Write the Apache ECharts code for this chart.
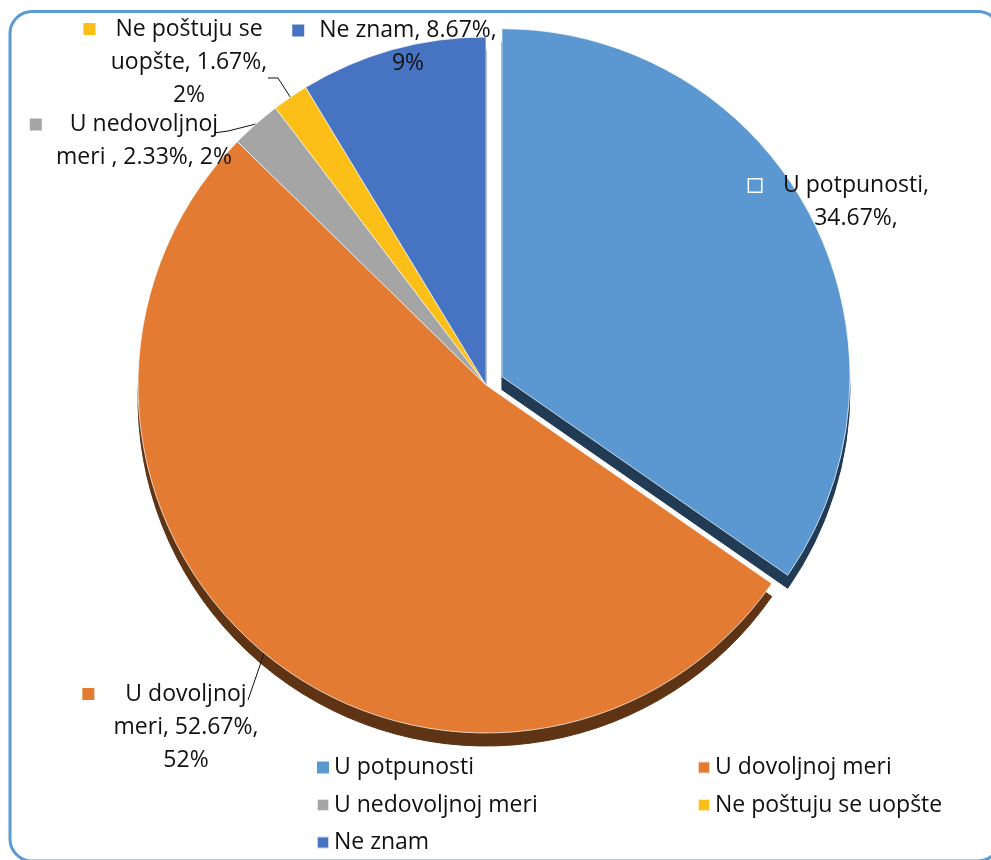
<!DOCTYPE html>
<html>
<head>
<meta charset="utf-8">
<style>
  html, body { margin: 0; padding: 0; background: #ffffff; }
  #chart { width: 991px; height: 860px; }
</style>
<script src="https://cdn.jsdelivr.net/npm/echarts@6/dist/echarts.min.js"></script>
</head>
<body>
<div id="chart"></div>
<script>
// Survey answers and their shares (%)
const categories = ['U potpunosti', 'U dovoljnoj meri', 'U nedovoljnoj meri', 'Ne poštuju se uopšte', 'Ne znam'];
const shares = [34.67, 52.67, 2.33, 1.67, 8.67];
const roundedShares = [null, 52, 2, 2, 9];

// How each data label is wrapped ($v = share, $r = rounded share)
const labelRows = [
  ['U potpunosti,', '$v,'],
  ['U dovoljnoj', 'meri, $v,', '$r'],
  ['U nedovoljnoj', 'meri , $v, $r'],
  ['Ne poštuju se', 'uopšte, $v,', '$r'],
  ['Ne znam, $v,', '$r']
];

const faceColors = ['#5B97D0', '#E47B33', '#A5A5A5', '#FBBF17', '#4673C2'];
const wallColors = ['#223B55', '#5E3414', '#404040', '#7F6000', '#1F3763'];

const FONT = '"Open Sans", "Liberation Sans", Arial, sans-serif';
const FS = 23;
const CENTER = [486, 385];
const RADIUS = 348;
const DEPTH = 13;
const EXPLODE = 18;
const EXPLODED = 0; // index of the slice pulled out of the pie

// spacing between the key square and the first line of each label
const keyGaps = [22, 31, 28, 20, 15];
// label block centres
const labelPos = [[856, 202], [186, 727], [144, 141], [189, 62], [408, 47]];
// where the leader line bends / meets the label, relative to the label centre
const leaderBends = [
  null,
  [[62, -27]],
  [[84, -10], [70, -8]],
  [[89, 16], [79, 16]],
  null
];
const withLine = [false, true, true, true, false];

const rich = { t: { fontSize: FS, lineHeight: 33, color: '#111', fontFamily: FONT } };
faceColors.forEach((c, i) => {
  rich['s' + i] = {
    width: 12, height: 12, backgroundColor: c,
    borderColor: i === 0 ? '#ffffff' : c, borderWidth: i === 0 ? 1.5 : 0
  };
  rich['g' + i] = { width: keyGaps[i], lineHeight: 33 };
  rich['p' + i] = { width: keyGaps[i] + 12, lineHeight: 33 };
});

function labelText(i) {
  const v = shares[i].toFixed(2) + '%';
  const r = roundedShares[i] == null ? '' : roundedShares[i] + '%';
  const rows = labelRows[i].map(s => s.replace('$v', v).replace('$r', r));
  return rows.map((row, k) => k === 0
    ? `{s${i}|}{g${i}|}{t|${row}}{p${i}|}`
    : `{t|${row}}`).join('\n');
}

function layoutLabel(p) {
  const i = p.dataIndex;
  const [lx, ly] = labelPos[i];
  const out = { x: lx, y: ly, align: 'center', verticalAlign: 'middle' };
  if (leaderBends[i] && p.labelLinePoints) {
    const start = p.labelLinePoints[0];
    out.labelLinePoints = [start].concat(leaderBends[i].map(([dx, dy]) => [lx + dx, ly + dy]));
  }
  return out;
}

// direction in which the exploded slice is pulled out (its bisector)
const total = shares.reduce((a, b) => a + b, 0);
const before = shares.slice(0, EXPLODED).reduce((a, b) => a + b, 0);
const midAngle = (before + shares[EXPLODED] / 2) / total * 2 * Math.PI;
const shift = [EXPLODE * Math.sin(midAngle), -EXPLODE * Math.cos(midAngle)];

const HIDDEN = 'rgba(0,0,0,0)';

// one pie layer; `visible(i)` chooses which slices are painted in it
function pieLayer(opts) {
  return {
    type: 'pie', z: opts.z,
    center: opts.center, radius: RADIUS,
    startAngle: 90, clockwise: true,
    selectedMode: false, silent: true,
    emphasis: { disabled: true },
    avoidLabelOverlap: false,
    label: opts.labels ? {
      show: true, position: 'outside', overflow: 'none',
      formatter: p => labelText(p.dataIndex),
      rich: rich, fontFamily: FONT, fontSize: FS, lineHeight: 33, color: '#111'
    } : { show: false },
    labelLine: { show: !!opts.labels, length: 10, length2: 10, lineStyle: { color: '#111', width: 1 } },
    labelLayout: opts.labels ? layoutLabel : undefined,
    data: categories.map((name, i) => {
      const on = opts.visible(i);
      return {
        name, value: shares[i],
        itemStyle: on
          ? { color: opts.colors[i], borderColor: opts.labels ? 'rgba(255,255,255,0.7)' : opts.colors[i], borderWidth: 1 }
          : { color: HIDDEN, borderWidth: 0 },
        label: { show: !!opts.labels && on },
        labelLine: { show: !!opts.labels && on && withLine[i] }
      };
    })
  };
}

const legendText = { fontSize: FS, lineHeight: 22, color: '#111', fontFamily: FONT };
const legendItems = idx => idx.map(i => ({ name: categories[i], itemStyle: { color: faceColors[i] } }));

const chart = echarts.init(document.getElementById('chart'), null, { renderer: 'canvas' });
chart.setOption({
  animation: false,
  backgroundColor: '#ffffff',
  graphic: [{
    type: 'rect', z: 100,
    shape: { x: 10, y: 11.5, width: 990, height: 849.5, r: 22 },
    style: { fill: 'none', stroke: '#5B9BD5', lineWidth: 3 }
  }],
  legend: [
    {
      data: legendItems([0, 2, 4]),
      orient: 'vertical', left: 316, top: 756, padding: 0,
      itemWidth: 12, itemHeight: 12, itemGap: 14.5, icon: 'rect',
      selectedMode: false, textStyle: legendText
    },
    {
      data: legendItems([1, 3]),
      orient: 'vertical', left: 697, top: 756, padding: 0,
      itemWidth: 12, itemHeight: 12, itemGap: 14.5, icon: 'rect',
      selectedMode: false, textStyle: legendText
    }
  ],
  series: [
    // top faces
    pieLayer({ z: 4, center: CENTER, colors: faceColors, labels: true, visible: i => i !== EXPLODED }),
    pieLayer({ z: 4, center: [CENTER[0] + shift[0], CENTER[1] + shift[1]], colors: faceColors, labels: true, visible: i => i === EXPLODED }),
    // side walls below the faces
    pieLayer({ z: 2, center: [CENTER[0], CENTER[1] + DEPTH], colors: wallColors, visible: i => i !== EXPLODED }),
    pieLayer({ z: 2, center: [CENTER[0] + shift[0], CENTER[1] + shift[1] + DEPTH], colors: wallColors, visible: i => i === EXPLODED })
  ]
});
</script>
</body>
</html>
